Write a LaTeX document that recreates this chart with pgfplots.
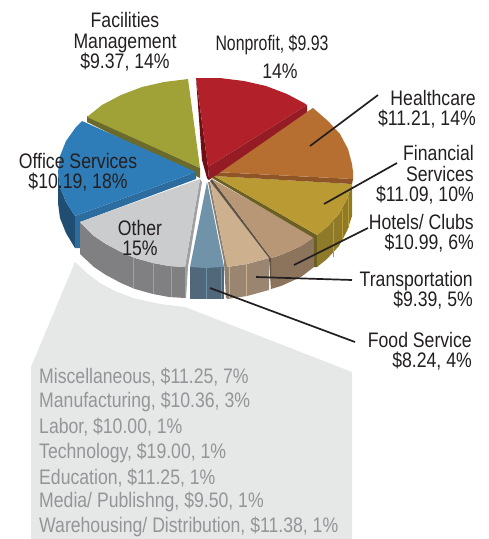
\documentclass[border=0pt]{standalone}
\usepackage{fontspec}
\setmainfont[FakeStretch=0.84]{Liberation Sans}
\usepackage{pgfplots}
\pgfplotsset{compat=1.18}
\definecolor{callout}{HTML}{E6E7E7}
\definecolor{calltext}{HTML}{949597}
\definecolor{ink}{HTML}{231F20}
\definecolor{olive}{HTML}{A0A238}
\definecolor{olivedk}{HTML}{6A6A2C}
\definecolor{blue1}{HTML}{2F7DB8}
\definecolor{blue2}{HTML}{2C6C9E}
\definecolor{blue3}{HTML}{1F4E72}
\definecolor{grey1}{HTML}{CBCCCE}
\definecolor{grey2}{HTML}{808082}
\definecolor{grey3}{HTML}{A0A0A1}
\definecolor{steel1}{HTML}{7193A9}
\definecolor{steel2}{HTML}{50687A}
\definecolor{tan1}{HTML}{CDB08E}
\definecolor{tan2}{HTML}{9A8670}
\definecolor{tan3}{HTML}{8E8071}
\definecolor{hotel1}{HTML}{B79776}
\definecolor{hotel2}{HTML}{8C735C}
\definecolor{hotel3}{HTML}{5F5345}
\definecolor{gold1}{HTML}{B99A33}
\definecolor{gold2}{HTML}{8F7A2A}
\definecolor{gold3}{HTML}{6B5F24}
\definecolor{orange1}{HTML}{B66F30}
\definecolor{orange2}{HTML}{8F5526}
\definecolor{red1}{HTML}{B2202A}
\definecolor{red2}{HTML}{951B24}
\definecolor{red3}{HTML}{6E0F16}
\tikzset{
  lbl/.style={font=\fontsize{21}{20.5}\selectfont, text=ink, inner sep=0pt},
  seam/.style={draw=#1, line width=0.5pt},
  leader/.style={draw=ink, line width=1.7pt},
}
\begin{document}
\begin{tikzpicture}
\begin{axis}[
    scale only axis,
    axis line style={draw=none, line width=0pt},
    xtick=\empty, ytick=\empty,
    width=489pt, height=539pt,
    xmin=0, xmax=489, ymin=0, ymax=539,
    y dir=reverse,
  ]
  % grey callout behind the pie
  \addplot[fill=callout, draw=none] coordinates {(75,262) (88,274) (100,283) (115,291) (133,298) (160,304) (185,307) (352,372) (352,539) (31,539) (31,367)};

  % Facilities Management
  \addplot[fill=olivedk, draw=none] coordinates {(87,116) (200,168) (200,178) (87,122)};
  \addplot[fill=olive, draw=none] coordinates {(200,168) (188,79) (164,82) (142,87) (121,95) (102,105) (87,117)};

  % Office Services
  \addplot[fill=blue3, draw=none] coordinates {(58,172) (60,187) (66,202) (75,216) (75,248) (66,233) (60,218) (58,203)};
  \addplot[fill=blue2, draw=none] coordinates {(75,216) (196,172) (196,179) (80,222) (80,248) (75,248)};
  \addplot[fill=blue1, draw=none] coordinates {(196,172) (75,216) (66,202) (60,187) (58,172) (60,156) (66,141) (76,127) (82,121)};

  % Other
  \addplot[fill=grey2, draw=none] coordinates {(80,222) (94,236) (106,244) (121,252) (135,258) (153,263) (169,266) (185,267) (185,298) (169,297) (153,294) (135,289) (121,283) (106,275) (94,267) (80,254)};
  \addplot[seam=grey3] coordinates {(133,257) (133,288)};
  \addplot[seam=grey3] coordinates {(153,263) (153,294)};
  \addplot[seam=grey3] coordinates {(171,266) (171,297)};
  \addplot[fill=grey3, draw=none] coordinates {(200,179) (202,182) (188,267) (186,298) (185,298) (185,267)};
  \addplot[fill=grey1, draw=none] coordinates {(200,179) (185,267) (169,266) (153,263) (135,258) (121,252) (106,244) (94,236) (80,222)};

  % Food Service
  \addplot[fill=steel2, draw=none] coordinates {(190,267) (190,299) (224,299) (224,267)};
  \addplot[seam=steel1] coordinates {(206,268) (206,299)};
  \addplot[seam=steel1] coordinates {(221,268) (221,299)};
  \addplot[fill=steel1, draw=none] coordinates {(207,182) (190,267) (205,268) (224,267)};

  % Transportation
  \addplot[fill=tan2, draw=none] coordinates {(227,267) (247,264) (269,258) (269,290) (247,296) (227,299)};
  \addplot[seam=tan1] coordinates {(229,267) (229,298)};
  \addplot[seam=tan1] coordinates {(246,264) (246,296)};
  \addplot[fill=tan3, draw=none] coordinates {(208,182) (224,262) (226,298) (228,298) (228,267) (225,257) (210,182)};
  \addplot[fill=tan1, draw=none] coordinates {(210,181) (225,257) (227,267) (247,264) (269,258)};

  % Hotels/ Clubs
  \addplot[fill=hotel2, draw=none] coordinates {(271,258) (281,255) (301,246) (314,237) (314,267) (301,277) (281,286) (271,289)};
  \addplot[fill=hotel3, draw=none] coordinates {(210,181) (269,258) (271,289) (271,258) (212,179)};
  \addplot[fill=hotel1, draw=none] coordinates {(212,179) (271,258) (281,255) (301,246) (314,237)};

  % Financial Services
  \addplot[fill=gold3, draw=none] coordinates {(314,237) (317,235) (317,267) (314,267)};
  \addplot[fill=gold2, draw=none] coordinates {(317,235) (327,227) (339,214) (347,199) (352,184) (352,216) (347,231) (339,246) (327,259) (317,267)};
  \addplot[seam=gold1] coordinates {(333,222) (333,257)};
  \addplot[seam=gold1] coordinates {(342,209) (342,240)};
  \addplot[seam=gold1] coordinates {(348,197) (348,228)};
  \addplot[fill=gold3, draw=none] coordinates {(214,176) (317,235) (314,238) (212,178)};
  \addplot[fill=gold1, draw=none] coordinates {(214,176) (352,184) (347,199) (339,214) (327,227) (317,235)};

  % Healthcare
  \addplot[fill=orange2, draw=none] coordinates {(215,172) (353,179) (352,184) (214,176)};
  \addplot[fill=orange1, draw=none] coordinates {(215,172) (313,108) (328,121) (340,134) (348,149) (352,164) (353,172) (353,179)};

  % Nonprofit
  \addplot[fill=red2, draw=none] coordinates {(208,167) (307,105) (307,112) (209,180)};
  \addplot[fill=red3, draw=none] coordinates {(196,78) (208,167) (209,180) (207,178) (202,160)};
  \addplot[fill=red1, draw=none] coordinates {(208,167) (196,78) (208,78) (220,78) (244,81) (266,86) (287,94) (304,103) (307,105)};

  % leader lines
  \addplot[leader] coordinates {(310,146) (378,95)};
  \addplot[leader] coordinates {(324,204) (397,163)};
  \addplot[leader] coordinates {(294,265) (368,228)};
  \addplot[leader] coordinates {(256,277) (352,280)};
  \addplot[leader] coordinates {(210,288) (355,342)};

  % labels
  \node[lbl, align=center] at (axis cs:125,42) {Facilities\\Management\\\$9.37, 14\%};
  \node[lbl, xscale=0.9, transform shape] at (axis cs:272,45) {Nonprofit, \$9.93};
  \node[lbl] at (axis cs:280,71) {14\%};
  \node[lbl, align=right, anchor=east] at (axis cs:476,109) {Healthcare\\\$11.21, 14\%};
  \node[lbl, align=right, anchor=east] at (axis cs:474,175) {Financial\\Services\\\$11.09, 10\%};
  \node[lbl, align=right, anchor=east] at (axis cs:474,233) {Hotels/ Clubs\\\$10.99, 6\%};
  \node[lbl, align=right, anchor=east] at (axis cs:473,290) {Transportation\\\$9.39, 5\%};
  \node[lbl, align=right, anchor=east] at (axis cs:472,351) {Food Service\\\$8.24, 4\%};
  \node[lbl, align=center] at (axis cs:78,172) {Office Services\\\$10.19, 18\%};
  \node[lbl, align=center] at (axis cs:140,238) {Other\\15\%};

  \node[lbl, text=calltext, anchor=west] at (axis cs:39,377) {Miscellaneous, \$11.25, 7\%};
  \node[lbl, text=calltext, anchor=west] at (axis cs:39,402) {Manufacturing, \$10.36, 3\%};
  \node[lbl, text=calltext, anchor=west] at (axis cs:39,427) {Labor, \$10.00, 1\%};
  \node[lbl, text=calltext, anchor=west] at (axis cs:39,453) {Technology, \$19.00, 1\%};
  \node[lbl, text=calltext, anchor=west] at (axis cs:39,478) {Education, \$11.25, 1\%};
  \node[lbl, text=calltext, anchor=west] at (axis cs:39,502) {Media/ Publishng, \$9.50, 1\%};
  \node[lbl, text=calltext, anchor=west] at (axis cs:39,527) {Warehousing/ Distribution, \$11.38, 1\%};
\end{axis}
\end{tikzpicture}
\end{document}
